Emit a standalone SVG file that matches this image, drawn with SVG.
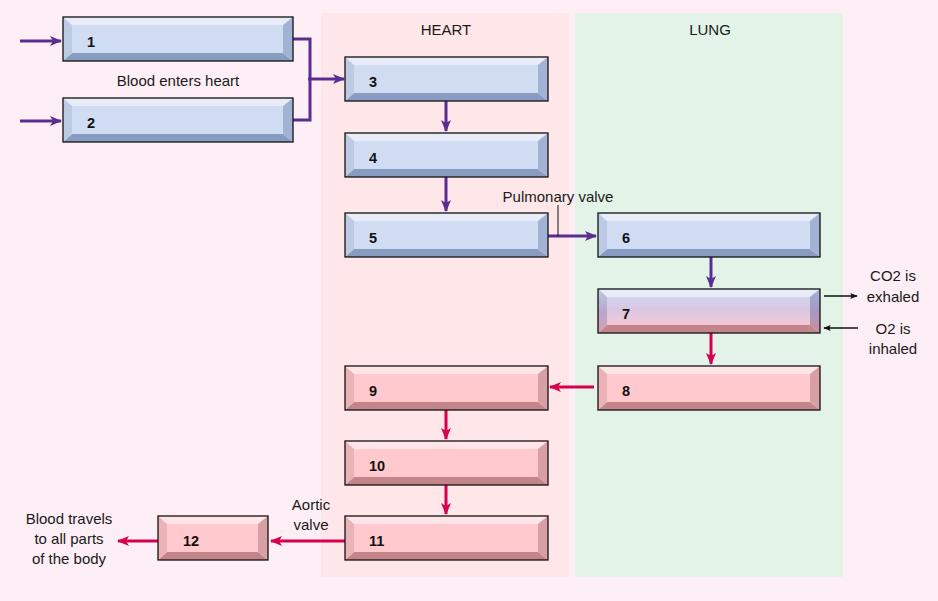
<svg xmlns="http://www.w3.org/2000/svg" width="938" height="601" viewBox="0 0 938 601">
<defs>
<style>
.lbl{font-family:"Liberation Sans",Arial,sans-serif;font-size:15px;fill:#1a1a1a}
.num{font-family:"Liberation Sans",Arial,sans-serif;font-size:14.5px;font-weight:bold;fill:#111}
.out{fill:none;stroke:#111;stroke-width:1.3}
.bt{fill:#E7ECF8}.bc{fill:#D0DCF2}.bl{fill:#BCCAE4}.br{fill:#A2B2D4}.bb{fill:#889CC2}
.pt{fill:#FFE5E8}.pc{fill:#FFC9CD}.pl{fill:#EBB2B8}.pr{fill:#D89FA5}.pb{fill:#C4858A}
.pu{fill:none;stroke:#5B2D91;stroke-width:3}
.rd{fill:none;stroke:#D6004F;stroke-width:3}
.bk{fill:none;stroke:#111;stroke-width:1.4}
</style>
<marker id="ap" viewBox="0 0 12 10" refX="11" refY="5" markerWidth="12" markerHeight="10" markerUnits="userSpaceOnUse" orient="auto"><path d="M0,0 L12,5 L0,10 L3,5 z" fill="#5B2D91"/></marker>
<marker id="ar" viewBox="0 0 12 10" refX="11" refY="5" markerWidth="12" markerHeight="10" markerUnits="userSpaceOnUse" orient="auto"><path d="M0,0 L12,5 L0,10 L3,5 z" fill="#D6004F"/></marker>
<marker id="ak" viewBox="0 0 10 8" refX="9" refY="4" markerWidth="8" markerHeight="6" markerUnits="userSpaceOnUse" orient="auto"><path d="M0,0 L10,4 L0,8 L2,4 z" fill="#111"/></marker>
<linearGradient id="g7c" x1="0" y1="0" x2="0" y2="1"><stop offset="0" stop-color="#D0DCF2"/><stop offset="0.45" stop-color="#D8C8E4"/><stop offset="1" stop-color="#FFC9CD"/></linearGradient>
<linearGradient id="g7l" x1="0" y1="0" x2="0" y2="1"><stop offset="0" stop-color="#BCCAE4"/><stop offset="0.5" stop-color="#B8A6CC"/><stop offset="1" stop-color="#D8A0AE"/></linearGradient>
<linearGradient id="g7r" x1="0" y1="0" x2="0" y2="1"><stop offset="0" stop-color="#A2B2D4"/><stop offset="0.5" stop-color="#A898C0"/><stop offset="1" stop-color="#C8909C"/></linearGradient>
</defs>
<rect x="0" y="0" width="938" height="601" fill="#FDEFF5"/>
<g id="heart-panel"><rect x="321" y="13" width="248" height="564" fill="#FFE6E8"/><text class="lbl" x="446" y="35" text-anchor="middle">HEART</text></g>
<g id="lung-panel"><rect x="575" y="13" width="268" height="564" fill="#E3F3E8"/><text class="lbl" x="710" y="35" text-anchor="middle">LUNG</text></g>

<g id="connectors">
<line class="pu" x1="20" y1="41" x2="61" y2="41" marker-end="url(#ap)"/>
<line class="pu" x1="20" y1="121" x2="61" y2="121" marker-end="url(#ap)"/>
<polyline class="pu" points="293,39 310,39 310,120 293,120"/>
<line class="pu" x1="308" y1="79" x2="344" y2="79" marker-end="url(#ap)"/>
<line class="pu" x1="446" y1="101" x2="446" y2="131" marker-end="url(#ap)"/>
<line class="pu" x1="446" y1="177" x2="446" y2="211" marker-end="url(#ap)"/>
<line class="pu" x1="548" y1="236" x2="596" y2="236" marker-end="url(#ap)"/>
<line x1="558" y1="205" x2="558" y2="236" stroke="#111" stroke-width="1"/>
<line class="pu" x1="711" y1="257" x2="711" y2="287" marker-end="url(#ap)"/>
<line class="rd" x1="711" y1="333" x2="711" y2="364" marker-end="url(#ar)"/>
<line class="rd" x1="594" y1="387" x2="550" y2="387" marker-end="url(#ar)"/>
<line class="rd" x1="446" y1="410" x2="446" y2="439" marker-end="url(#ar)"/>
<line class="rd" x1="446" y1="485" x2="446" y2="514" marker-end="url(#ar)"/>
<line class="rd" x1="345" y1="541" x2="271" y2="541" marker-end="url(#ar)"/>
<line class="rd" x1="158" y1="541" x2="118" y2="541" marker-end="url(#ar)"/>
<line class="bk" x1="824" y1="296" x2="857" y2="296" marker-end="url(#ak)"/>
<line class="bk" x1="858" y1="328" x2="824" y2="328" marker-end="url(#ak)"/>
</g>

<g id="labels">
<text class="lbl" x="178" y="86" text-anchor="middle">Blood enters heart</text>
<text class="lbl" x="558" y="202" text-anchor="middle">Pulmonary valve</text>
<text class="lbl" x="893" y="281" text-anchor="middle">CO2 is</text>
<text class="lbl" x="893" y="302" text-anchor="middle">exhaled</text>
<text class="lbl" x="893" y="334" text-anchor="middle">O2 is</text>
<text class="lbl" x="893" y="354" text-anchor="middle">inhaled</text>
<text class="lbl" x="311" y="510" text-anchor="middle">Aortic</text>
<text class="lbl" x="311" y="530" text-anchor="middle">valve</text>
<text class="lbl" x="69" y="524" text-anchor="middle">Blood travels</text>
<text class="lbl" x="69" y="544" text-anchor="middle">to all parts</text>
<text class="lbl" x="69" y="564" text-anchor="middle">of the body</text>
</g>

<g id="node1" transform="translate(63,17)">
<polygon class="bt" points="0,0 230,0 220,8 9,8"/><polygon class="bb" points="0,44 230,44 220,36 9,36"/>
<polygon class="bl" points="0,0 9,8 9,36 0,44"/><polygon class="br" points="230,0 220,8 220,36 230,44"/>
<rect class="bc" x="9" y="8" width="211" height="28"/><rect class="out" x="0" y="0" width="230" height="44"/>
<text class="num" x="24" y="30">1</text></g>
<g id="node2" transform="translate(63,98)">
<polygon class="bt" points="0,0 230,0 220,8 9,8"/><polygon class="bb" points="0,44 230,44 220,36 9,36"/>
<polygon class="bl" points="0,0 9,8 9,36 0,44"/><polygon class="br" points="230,0 220,8 220,36 230,44"/>
<rect class="bc" x="9" y="8" width="211" height="28"/><rect class="out" x="0" y="0" width="230" height="44"/>
<text class="num" x="24" y="30">2</text></g>
<g id="node3" transform="translate(345,57)">
<polygon class="bt" points="0,0 203,0 193,8 9,8"/><polygon class="bb" points="0,44 203,44 193,36 9,36"/>
<polygon class="bl" points="0,0 9,8 9,36 0,44"/><polygon class="br" points="203,0 193,8 193,36 203,44"/>
<rect class="bc" x="9" y="8" width="184" height="28"/><rect class="out" x="0" y="0" width="203" height="44"/>
<text class="num" x="24" y="30">3</text></g>
<g id="node4" transform="translate(345,133)">
<polygon class="bt" points="0,0 203,0 193,8 9,8"/><polygon class="bb" points="0,44 203,44 193,36 9,36"/>
<polygon class="bl" points="0,0 9,8 9,36 0,44"/><polygon class="br" points="203,0 193,8 193,36 203,44"/>
<rect class="bc" x="9" y="8" width="184" height="28"/><rect class="out" x="0" y="0" width="203" height="44"/>
<text class="num" x="24" y="30">4</text></g>
<g id="node5" transform="translate(345,213)">
<polygon class="bt" points="0,0 203,0 193,8 9,8"/><polygon class="bb" points="0,44 203,44 193,36 9,36"/>
<polygon class="bl" points="0,0 9,8 9,36 0,44"/><polygon class="br" points="203,0 193,8 193,36 203,44"/>
<rect class="bc" x="9" y="8" width="184" height="28"/><rect class="out" x="0" y="0" width="203" height="44"/>
<text class="num" x="24" y="30">5</text></g>
<g id="node6" transform="translate(598,213)">
<polygon class="bt" points="0,0 222,0 212,8 9,8"/><polygon class="bb" points="0,44 222,44 212,36 9,36"/>
<polygon class="bl" points="0,0 9,8 9,36 0,44"/><polygon class="br" points="222,0 212,8 212,36 222,44"/>
<rect class="bc" x="9" y="8" width="203" height="28"/><rect class="out" x="0" y="0" width="222" height="44"/>
<text class="num" x="24" y="30">6</text></g>
<g id="node7" transform="translate(598,289)">
<polygon fill="url(#g7c)" points="0,0 222,0 222,44 0,44"/>
<polygon class="bt" points="0,0 222,0 212,8 9,8"/><polygon class="pb" points="0,44 222,44 212,36 9,36"/>
<polygon fill="url(#g7l)" points="0,0 9,8 9,36 0,44"/><polygon fill="url(#g7r)" points="222,0 212,8 212,36 222,44"/>
<rect class="out" x="0" y="0" width="222" height="44"/>
<text class="num" x="24" y="30">7</text></g>
<g id="node8" transform="translate(598,366)">
<polygon class="pt" points="0,0 222,0 212,8 9,8"/><polygon class="pb" points="0,44 222,44 212,36 9,36"/>
<polygon class="pl" points="0,0 9,8 9,36 0,44"/><polygon class="pr" points="222,0 212,8 212,36 222,44"/>
<rect class="pc" x="9" y="8" width="203" height="28"/><rect class="out" x="0" y="0" width="222" height="44"/>
<text class="num" x="24" y="30">8</text></g>
<g id="node9" transform="translate(345,366)">
<polygon class="pt" points="0,0 203,0 193,8 9,8"/><polygon class="pb" points="0,44 203,44 193,36 9,36"/>
<polygon class="pl" points="0,0 9,8 9,36 0,44"/><polygon class="pr" points="203,0 193,8 193,36 203,44"/>
<rect class="pc" x="9" y="8" width="184" height="28"/><rect class="out" x="0" y="0" width="203" height="44"/>
<text class="num" x="24" y="30">9</text></g>
<g id="node10" transform="translate(345,441)">
<polygon class="pt" points="0,0 203,0 193,8 9,8"/><polygon class="pb" points="0,44 203,44 193,36 9,36"/>
<polygon class="pl" points="0,0 9,8 9,36 0,44"/><polygon class="pr" points="203,0 193,8 193,36 203,44"/>
<rect class="pc" x="9" y="8" width="184" height="28"/><rect class="out" x="0" y="0" width="203" height="44"/>
<text class="num" x="24" y="30">10</text></g>
<g id="node11" transform="translate(345,516)">
<polygon class="pt" points="0,0 203,0 193,8 9,8"/><polygon class="pb" points="0,44 203,44 193,36 9,36"/>
<polygon class="pl" points="0,0 9,8 9,36 0,44"/><polygon class="pr" points="203,0 193,8 193,36 203,44"/>
<rect class="pc" x="9" y="8" width="184" height="28"/><rect class="out" x="0" y="0" width="203" height="44"/>
<text class="num" x="24" y="30">11</text></g>
<g id="node12" transform="translate(158,516)">
<polygon class="pt" points="0,0 110,0 100,8 9,8"/><polygon class="pb" points="0,44 110,44 100,36 9,36"/>
<polygon class="pl" points="0,0 9,8 9,36 0,44"/><polygon class="pr" points="110,0 100,8 100,36 110,44"/>
<rect class="pc" x="9" y="8" width="91" height="28"/><rect class="out" x="0" y="0" width="110" height="44"/>
<text class="num" x="25" y="30">12</text></g>
</svg>
